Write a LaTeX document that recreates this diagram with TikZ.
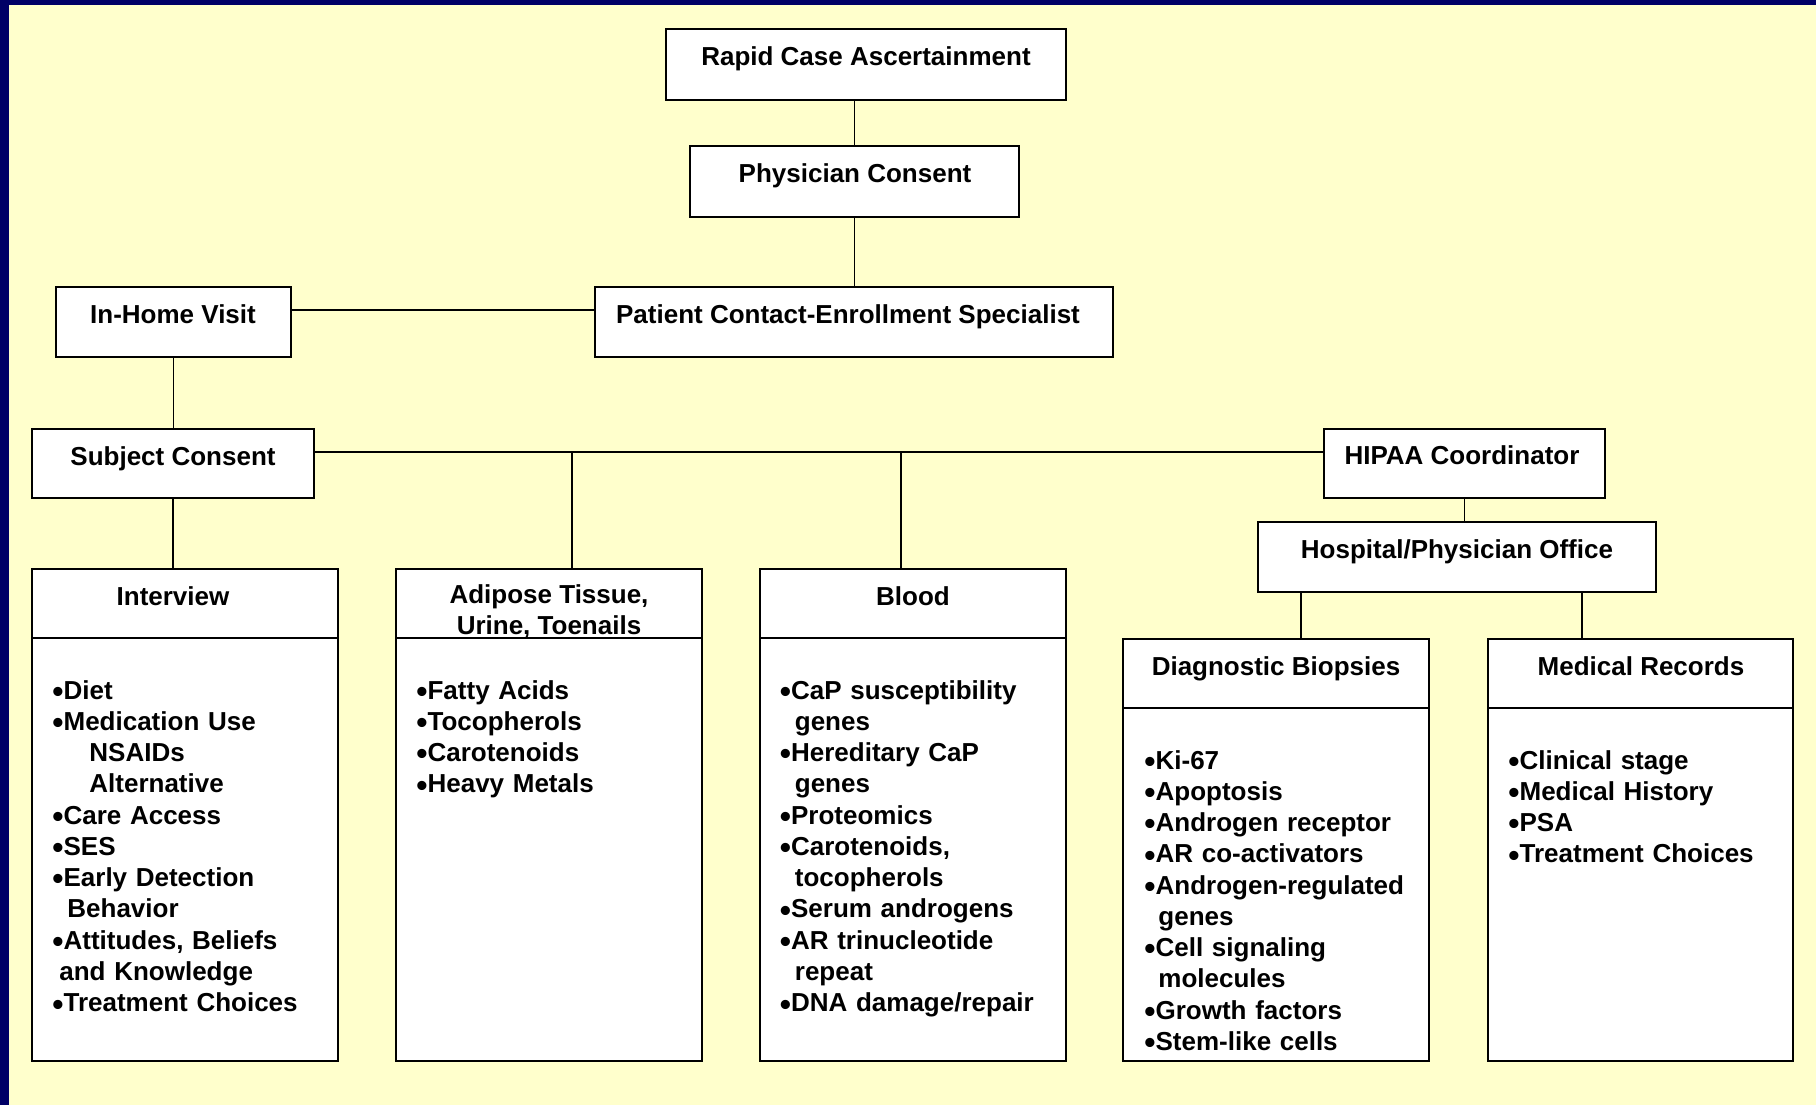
\documentclass[tikz,border=0pt]{standalone}
\usepackage{fontspec}
\setmainfont{Liberation Sans}
\definecolor{bgyellow}{HTML}{FFFFCC}
\definecolor{navyband}{HTML}{000066}
\newcommand\bul{{\fontsize{16pt}{15pt}\selectfont\raisebox{-1.6pt}{•}}}
\begin{document}
\begin{tikzpicture}[x=0.5pt,y=-0.5pt,
  box/.style={draw=black, line width=1pt, fill=white, rectangle, inner sep=0pt},
  conn/.style={draw=black, line width=0.8pt},
  lbl/.style={font=\bfseries\fontsize{13pt}{15.5pt}\selectfont, inner sep=0pt, anchor=base},
  lst/.style={font=\bfseries\fontsize{13pt}{15.64pt}\selectfont, inner sep=0pt, anchor=base west, align=left, text width=148pt}]
\useasboundingbox (0,0) rectangle (1816,1105);
\fill[bgyellow] (0,0) rectangle (1816,1105);
\fill[navyband] (0,0) rectangle (1816,5);
\fill[navyband] (0,0) rectangle (9,1105);

% upper boxes
\node[box, minimum width=200pt, minimum height=35.5pt] (rapid) at (866,64.5) {};
\node[box, minimum width=164.5pt, minimum height=35.5pt] (phys) at (854.5,181.5) {};
\node[box, minimum width=117.5pt, minimum height=35pt] (home) at (173.5,322) {};
\node[box, minimum width=259pt, minimum height=35pt] (pat) at (854,322) {};
\node[box, minimum width=141pt, minimum height=34.5pt] (subj) at (173,463.5) {};
\node[box, minimum width=140.5pt, minimum height=34.5pt] (hipaa) at (1464.5,463.5) {};
\node[box, minimum width=199pt, minimum height=35pt] (hosp) at (1457,557) {};

% lower boxes
\node[box, minimum width=153pt, minimum height=246pt] (interview) at (185,815) {};
\node[box, minimum width=153pt, minimum height=246pt] (adipose) at (549,815) {};
\node[box, minimum width=153pt, minimum height=246pt] (blood) at (913,815) {};
\node[box, minimum width=153pt, minimum height=211pt] (diag) at (1276,850) {};
\node[box, minimum width=152.5pt, minimum height=211pt] (med) at (1640.5,850) {};

% header separator lines
\foreach \b in {interview,adipose,blood,diag,med}
  \draw[line width=1pt] ([yshift=-35pt]\b.north west) -- ([yshift=-35pt]\b.north east);

% connectors
\coordinate (trunk) at ([yshift=5.75pt]subj.east);
\draw[conn] (phys.north) -- (phys.north |- rapid.south);
\draw[conn] (phys.south) -- (phys.south |- pat.north);
\draw[conn] ([yshift=6pt]home.east) -- ([yshift=6pt]home.east -| pat.west);
\draw[conn] (home.south) -- (home.south |- subj.north);
\draw[conn] (trunk) -- (trunk -| hipaa.west);
\draw[conn] ([xshift=11.5pt]adipose.north) -- ([xshift=11.5pt]adipose.north |- trunk);
\draw[conn] ([xshift=-6pt]blood.north) -- ([xshift=-6pt]blood.north |- trunk);
\draw[conn] (subj.south) -- (subj.south |- interview.north);
\draw[conn] (hipaa.south) -- (hipaa.south |- hosp.north);
\draw[conn] ([xshift=12.5pt]diag.north) -- ([xshift=12.5pt]diag.north |- hosp.south);
\draw[conn] ([xshift=-29.25pt]med.north) -- ([xshift=-29.25pt]med.north |- hosp.south);

% box titles
\node[lbl] (trapid) at (866,65) {Rapid Case Ascertainment};
\node[lbl] (tphys) at (855,182) {Physician Consent};
\node[lbl] (thome) at (173,323) {In-Home Visit};
\node[lbl] (tpat) at (848,323) {Patient Contact-Enrollment Specialist};
\node[lbl] (tsubj) at (173,465) {Subject Consent};
\node[lbl] (thipaa) at (1462,464) {HIPAA Coordinator};
\node[lbl] (thosp) at (1457,558) {Hospital/Physician Office};
\node[lbl] (tinterview) at (173,605) {Interview};
\node[lbl] (tadipose1) at (549,603) {Adipose Tissue,};
\node[lbl] (tadipose2) at (549,634) {Urine, Toenails};
\node[lbl] (tblood) at (913,605) {Blood};
\node[lbl] (tdiag) at (1276,675) {Diagnostic Biopsies};
\node[lbl] (tmed) at (1641,675) {Medical Records};

% lists
\node[lst] (linterview) at (52,699) {\bul Diet\\\bul Medication Use\\\hspace*{18.5pt}NSAIDs\\\hspace*{18.5pt}Alternative\\\bul Care Access\\\bul SES\\\bul Early Detection\\\hspace*{7.5pt}Behavior\\\bul Attitudes, Beliefs\\\hspace*{3.5pt}and Knowledge\\\bul Treatment Choices};
\node[lst] (ladipose) at (416,699) {\bul Fatty Acids\\\bul Tocopherols\\\bul Carotenoids\\\bul Heavy Metals};
\node[lst] (lblood) at (779.5,699) {\bul CaP susceptibility\\\hspace*{7.5pt}genes\\\bul Hereditary CaP\\\hspace*{7.5pt}genes\\\bul Proteomics\\\bul Carotenoids,\\\hspace*{7.5pt}tocopherols\\\bul Serum androgens\\\bul AR trinucleotide\\\hspace*{7.5pt}repeat\\\bul DNA damage/repair};
\node[lst] (ldiag) at (1144,769) {\bul Ki-67\\\bul Apoptosis\\\bul Androgen receptor\\\bul AR co-activators\\\bul Androgen-regulated\\\hspace*{7pt}genes\\\bul Cell signaling\\\hspace*{7pt}molecules\\\bul Growth factors\\\bul Stem-like cells};
\node[lst] (lmed) at (1508,769) {\bul Clinical stage\\\bul Medical History\\\bul PSA\\\bul Treatment Choices};
\end{tikzpicture}
\end{document}
